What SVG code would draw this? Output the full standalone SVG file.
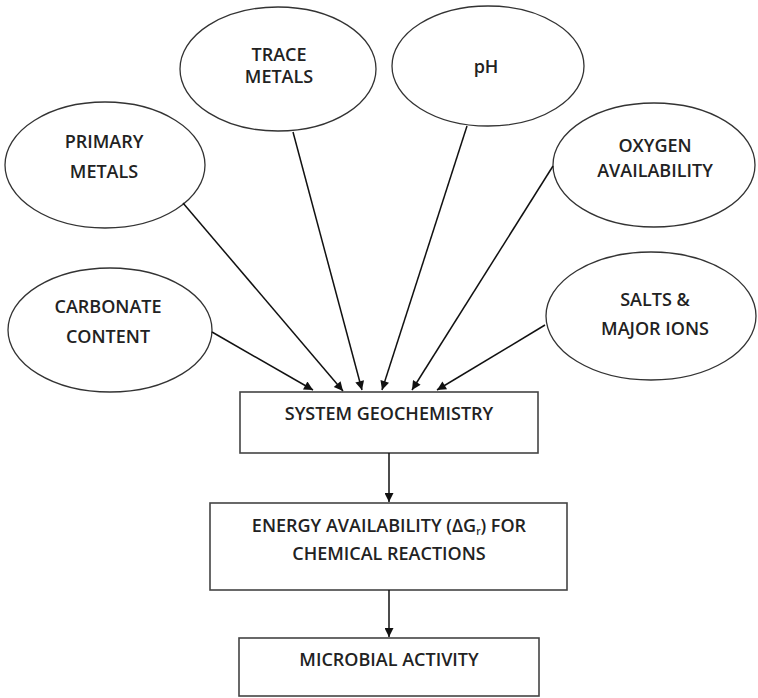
<svg xmlns="http://www.w3.org/2000/svg" width="758" height="698" viewBox="0 0 758 698">
<defs>
<marker id="ah" viewBox="0 0 10 10" refX="10" refY="5" markerWidth="11" markerHeight="9" markerUnits="userSpaceOnUse" orient="auto">
<path d="M0,0 L10,5 L0,10 z" fill="#111"/>
</marker>
<style>
.el{fill:#fff;stroke:#333;stroke-width:1.3}
.bx{fill:#fff;stroke:#444;stroke-width:1.6}
.t{font-family:"Open Sans","Liberation Sans",sans-serif;font-size:18px;fill:#222;text-anchor:middle;font-weight:600}
.c{stroke:#111;stroke-width:1.5;fill:none;marker-end:url(#ah)}
</style>
</defs>
<rect width="758" height="698" fill="#fff"/>
<g id="trace"><ellipse class="el" cx="278" cy="69" rx="98" ry="62"/><text class="t" x="279" y="61">TRACE</text><text class="t" x="279" y="83">METALS</text></g>
<g id="ph"><ellipse class="el" cx="488" cy="66" rx="96" ry="60"/><text class="t" x="486" y="73">pH</text></g>
<g id="primary"><ellipse class="el" cx="105" cy="165" rx="100" ry="63"/><text class="t" x="104" y="148">PRIMARY</text><text class="t" x="104" y="178">METALS</text></g>
<g id="oxygen"><ellipse class="el" cx="654" cy="165" rx="101" ry="62"/><text class="t" x="655" y="152">OXYGEN</text><text class="t" x="655" y="177">AVAILABILITY</text></g>
<g id="carbonate"><ellipse class="el" cx="110" cy="330" rx="102" ry="62"/><text class="t" x="108" y="313">CARBONATE</text><text class="t" x="108" y="343">CONTENT</text></g>
<g id="salts"><ellipse class="el" cx="651" cy="316" rx="105" ry="64"/><text class="t" x="655" y="306">SALTS &amp;</text><text class="t" x="655" y="335">MAJOR IONS</text></g>
<g id="geochem"><rect class="bx" x="240" y="392" width="298" height="61"/><text class="t" x="389" y="420">SYSTEM GEOCHEMISTRY</text></g>
<g id="energy"><rect class="bx" x="210" y="503" width="357" height="87"/><text class="t" x="389" y="532">ENERGY AVAILABILITY (ΔG<tspan font-size="10" dy="3">r</tspan><tspan dy="-3">) FOR</tspan></text><text class="t" x="389" y="560">CHEMICAL REACTIONS</text></g>
<g id="microbial"><rect class="bx" x="239" y="638" width="300" height="58"/><text class="t" x="389" y="666">MICROBIAL ACTIVITY</text></g>
<g id="connectors">
<line class="c" x1="183" y1="203" x2="343" y2="391"/>
<line class="c" x1="293" y1="132" x2="362" y2="390"/>
<line class="c" x1="212" y1="332" x2="313" y2="390"/>
<line class="c" x1="467" y1="126" x2="382" y2="390"/>
<line class="c" x1="553" y1="166" x2="412" y2="390"/>
<line class="c" x1="545" y1="325" x2="437" y2="390"/>
<line class="c" x1="389" y1="453" x2="389" y2="502"/>
<line class="c" x1="389" y1="590" x2="389" y2="637"/>
</g>
</svg>
